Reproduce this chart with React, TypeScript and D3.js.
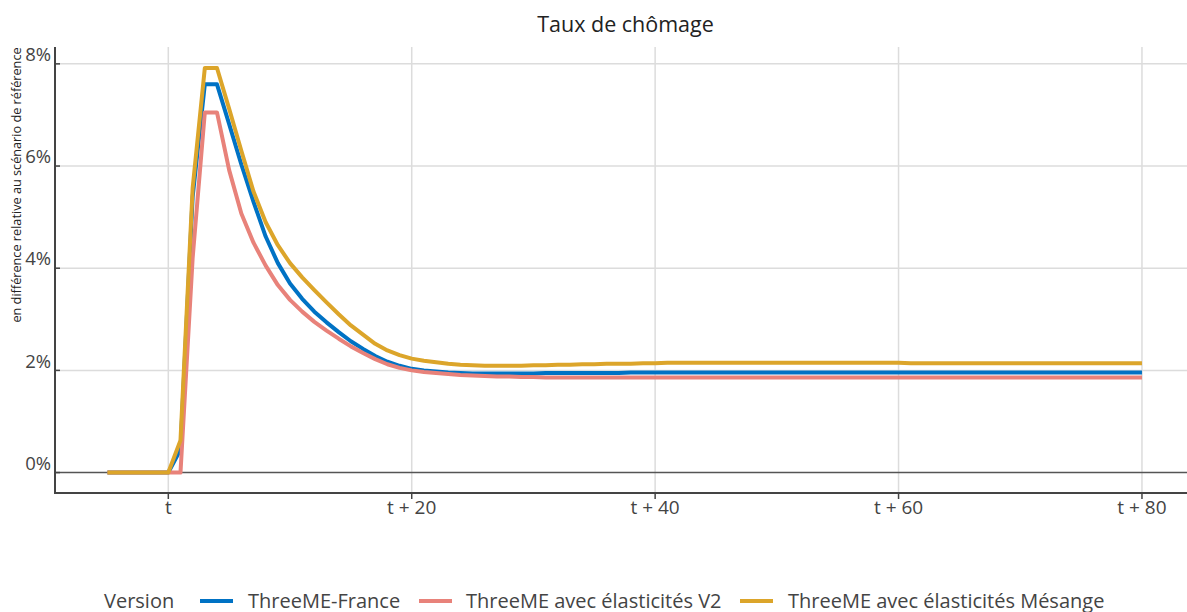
import * as d3 from "d3";

// periods relative to t (t-5 ... t+80)
const periods = d3.range(-5, 81);

const seriesNames = [
	"ThreeME-France",
	"ThreeME avec élasticités V2",
	"ThreeME avec élasticités Mésange",
];

// values in % relative difference to the reference scenario
const threeMeFrance = [
	0, 0, 0, 0, 0, 0, 0.45, 5.4, 7.6, 7.6, 6.82, 6.03, 5.3, 4.62, 4.1, 3.7,
	3.4, 3.15, 2.94, 2.75, 2.57, 2.42, 2.28, 2.17, 2.09, 2.03, 2.0, 1.98, 1.96,
	1.95, 1.94, 1.94, 1.94, 1.94, 1.94, 1.94, 1.95, 1.95, 1.95, 1.95, 1.95, 1.95,
	1.95, 1.96, 1.96, 1.96, 1.96, 1.96, 1.96, 1.96, 1.96, 1.96, 1.96, 1.96, 1.96,
	1.96, 1.96, 1.96, 1.96, 1.96, 1.96, 1.96, 1.96, 1.96, 1.96, 1.96, 1.96, 1.96,
	1.96, 1.96, 1.96, 1.96, 1.96, 1.96, 1.96, 1.96, 1.96, 1.96, 1.96, 1.96, 1.96,
	1.96, 1.96, 1.96, 1.96, 1.96,
];

const elasticitesV2 = [
	0, 0, 0, 0, 0, 0, 0, 4.2, 7.05, 7.05, 5.92, 5.07, 4.5, 4.05, 3.67, 3.38,
	3.15, 2.95, 2.78, 2.62, 2.47, 2.34, 2.22, 2.12, 2.05, 2.0, 1.97, 1.95, 1.93,
	1.91, 1.9, 1.89, 1.88, 1.88, 1.87, 1.87, 1.86, 1.86, 1.86, 1.86, 1.86, 1.86,
	1.86, 1.86, 1.86, 1.86, 1.86, 1.86, 1.86, 1.86, 1.86, 1.86, 1.86, 1.86, 1.86,
	1.86, 1.86, 1.86, 1.86, 1.86, 1.86, 1.86, 1.86, 1.86, 1.86, 1.86, 1.86, 1.86,
	1.86, 1.86, 1.86, 1.86, 1.86, 1.86, 1.86, 1.86, 1.86, 1.86, 1.86, 1.86, 1.86,
	1.86, 1.86, 1.86, 1.86, 1.86,
];

const elasticitesMesange = [
	0, 0, 0, 0, 0, 0, 0.63, 5.57, 7.92, 7.92, 7.12, 6.3, 5.5, 4.9, 4.45, 4.1,
	3.82, 3.57, 3.33, 3.1, 2.88, 2.7, 2.52, 2.39, 2.3, 2.23, 2.19, 2.16, 2.13,
	2.11, 2.1, 2.09, 2.09, 2.09, 2.09, 2.1, 2.1, 2.11, 2.11, 2.12, 2.12, 2.13,
	2.13, 2.13, 2.14, 2.14, 2.15, 2.15, 2.15, 2.15, 2.15, 2.15, 2.15, 2.15, 2.15,
	2.15, 2.15, 2.15, 2.15, 2.15, 2.15, 2.15, 2.15, 2.15, 2.15, 2.15, 2.14, 2.14,
	2.14, 2.14, 2.14, 2.14, 2.14, 2.14, 2.14, 2.14, 2.14, 2.14, 2.14, 2.14, 2.14,
	2.14, 2.14, 2.14, 2.14, 2.14,
];

const xTicks = [0, 20, 40, 60, 80];
const xTickLabels = ["t", "t + 20", "t + 40", "t + 60", "t + 80"];
const yTicks = [0, 2, 4, 6, 8];

const colors = ["#0072C4", "#E8827A", "#DCA52A"];

const WIDTH = 1187;
const HEIGHT = 612;
const FONT = "'Open Sans', sans-serif";

export default function App() {
	const plot = { left: 55, right: 1187, top: 47, bottom: 493 };

	const x = d3.scaleLinear().domain([-9.31, 83.7]).range([plot.left, plot.right]);
	const y = d3.scaleLinear().domain([-0.4, 8.33]).range([plot.bottom, plot.top]);

	const allSeries = [threeMeFrance, elasticitesV2, elasticitesMesange];

	const line = d3
		.line<number>()
		.x((_, i) => x(periods[i]))
		.y((d) => y(d));

	// legend item positions (line sample start, text start)
	const legendItems = [
		{ lx: 200, tx: 248 },
		{ lx: 419, tx: 466 },
		{ lx: 740, tx: 788 },
	];

	return (
		<svg
			width={WIDTH}
			height={HEIGHT}
			style={{ position: "absolute", left: 0, top: 0, background: "#fff" }}
			fontFamily={FONT}
		>
			{/* gridlines */}
			{xTicks.map((t) => (
				<line
					key={"gx" + t}
					x1={x(t)}
					x2={x(t)}
					y1={plot.top}
					y2={plot.bottom}
					stroke="#dcdcdc"
					strokeWidth={1.5}
				/>
			))}
			{yTicks
				.filter((t) => t !== 0)
				.map((t) => (
					<line
						key={"gy" + t}
						x1={plot.left}
						x2={plot.right}
						y1={y(t)}
						y2={y(t)}
						stroke="#dcdcdc"
						strokeWidth={1.5}
					/>
				))}
			{/* zero line */}
			<line
				x1={plot.left}
				x2={plot.right}
				y1={y(0)}
				y2={y(0)}
				stroke="#555"
				strokeWidth={1.5}
			/>

			{/* series */}
			{allSeries.map((s, i) => (
				<path
					key={seriesNames[i]}
					d={line(s) ?? ""}
					fill="none"
					stroke={colors[i]}
					strokeWidth={4}
					strokeLinejoin="round"
				/>
			))}

			{/* axes */}
			<line
				x1={plot.left}
				x2={plot.left}
				y1={plot.top}
				y2={plot.bottom + 1}
				stroke="#444"
				strokeWidth={2}
			/>
			<line
				x1={plot.left - 1}
				x2={plot.right}
				y1={plot.bottom}
				y2={plot.bottom}
				stroke="#444"
				strokeWidth={2}
			/>
			{yTicks.map((t) => (
				<g key={"yt" + t}>
					<line
						x1={plot.left}
						x2={plot.left + 5}
						y1={y(t)}
						y2={y(t)}
						stroke="#444"
						strokeWidth={1.5}
					/>
					<text
						x={plot.left - 4}
						y={y(t)}
						dy="-0.15em"
						textAnchor="end"
						fontSize={18.5}
						fill="#444"
					>
						{t + "%"}
					</text>
				</g>
			))}
			{xTicks.map((t, i) => (
				<g key={"xt" + t}>
					<line
						x1={x(t)}
						x2={x(t)}
						y1={plot.bottom}
						y2={plot.bottom + 6}
						stroke="#444"
						strokeWidth={1.5}
					/>
					<text
						x={x(t)}
						y={plot.bottom + 21}
						textAnchor="middle"
						fontSize={19}
						fill="#444"
					>
						{xTickLabels[i]}
					</text>
				</g>
			))}

			{/* titles */}
			<text x={625.5} y={32} textAnchor="middle" fontSize={21.5} fill="#222">
				Taux de chômage
			</text>
			<text
				transform="translate(21,185) rotate(-90)"
				textAnchor="middle"
				fontSize={12.7}
				fill="#222"
			>
				en différence relative au scénario de référence
			</text>

			{/* legend */}
			<text x={104} y={608} fontSize={20} fill="#444">
				Version
			</text>
			{legendItems.map((it, i) => (
				<g key={"lg" + i}>
					<line
						x1={it.lx}
						x2={it.lx + 33}
						y1={601}
						y2={601}
						stroke={colors[i]}
						strokeWidth={4}
					/>
					<text x={it.tx} y={608} fontSize={20} fill="#444">
						{seriesNames[i]}
					</text>
				</g>
			))}
		</svg>
	);
}
